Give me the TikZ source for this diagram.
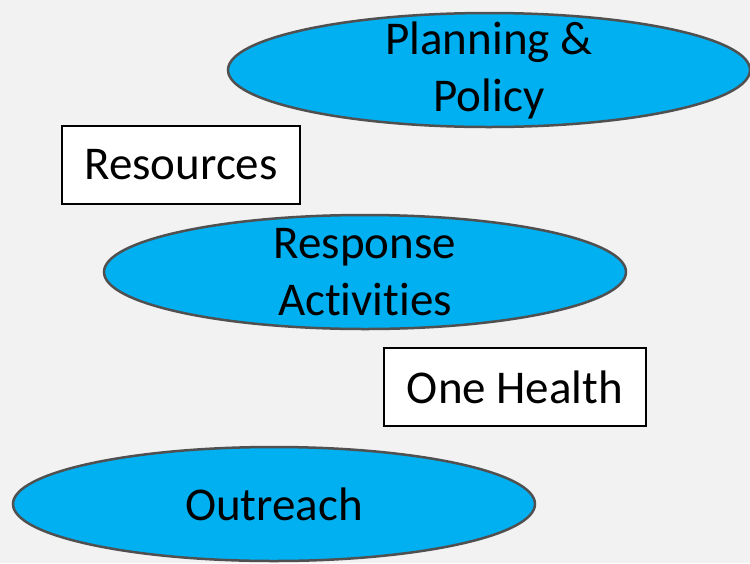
\documentclass[tikz,border=0pt]{standalone}
\usepackage{fontspec}
\setmainfont[Ligatures=NoCommon]{Carlito}
\usetikzlibrary{shapes.geometric,positioning}
\definecolor{bggray}{HTML}{F2F2F2}
\definecolor{ovalblue}{HTML}{00B0F0}
\definecolor{ovalline}{HTML}{505050}

\begin{document}
\begin{tikzpicture}[x=1pt,y=-1pt,
  every node/.style={font=\fontsize{47}{57}\selectfont, align=center, inner sep=0pt, outer sep=0pt},
  oval/.style={ellipse, draw=ovalline, line width=2.5pt, fill=ovalblue, inner ysep=-15pt, minimum width=522pt, minimum height=114pt},
  box/.style={rectangle, draw=black, line width=1.2pt, fill=white, minimum height=78pt}]

  \fill[bggray] (0,0) rectangle (750,563);
  \useasboundingbox (0,0) rectangle (750,563);

  \node(plan)[oval] at (489,70) {Planning \&\\Policy};
  \node(res)[box,minimum width=238pt] at (181,165) {Resources};

  \node(resp)[oval] at (365,272) {Response\\Activities};
  \node(oneh)[box,minimum width=262pt] at (515,387) {One Health};

  \node(out)[oval] at (274,504) {Outreach};
\end{tikzpicture}
\end{document}
